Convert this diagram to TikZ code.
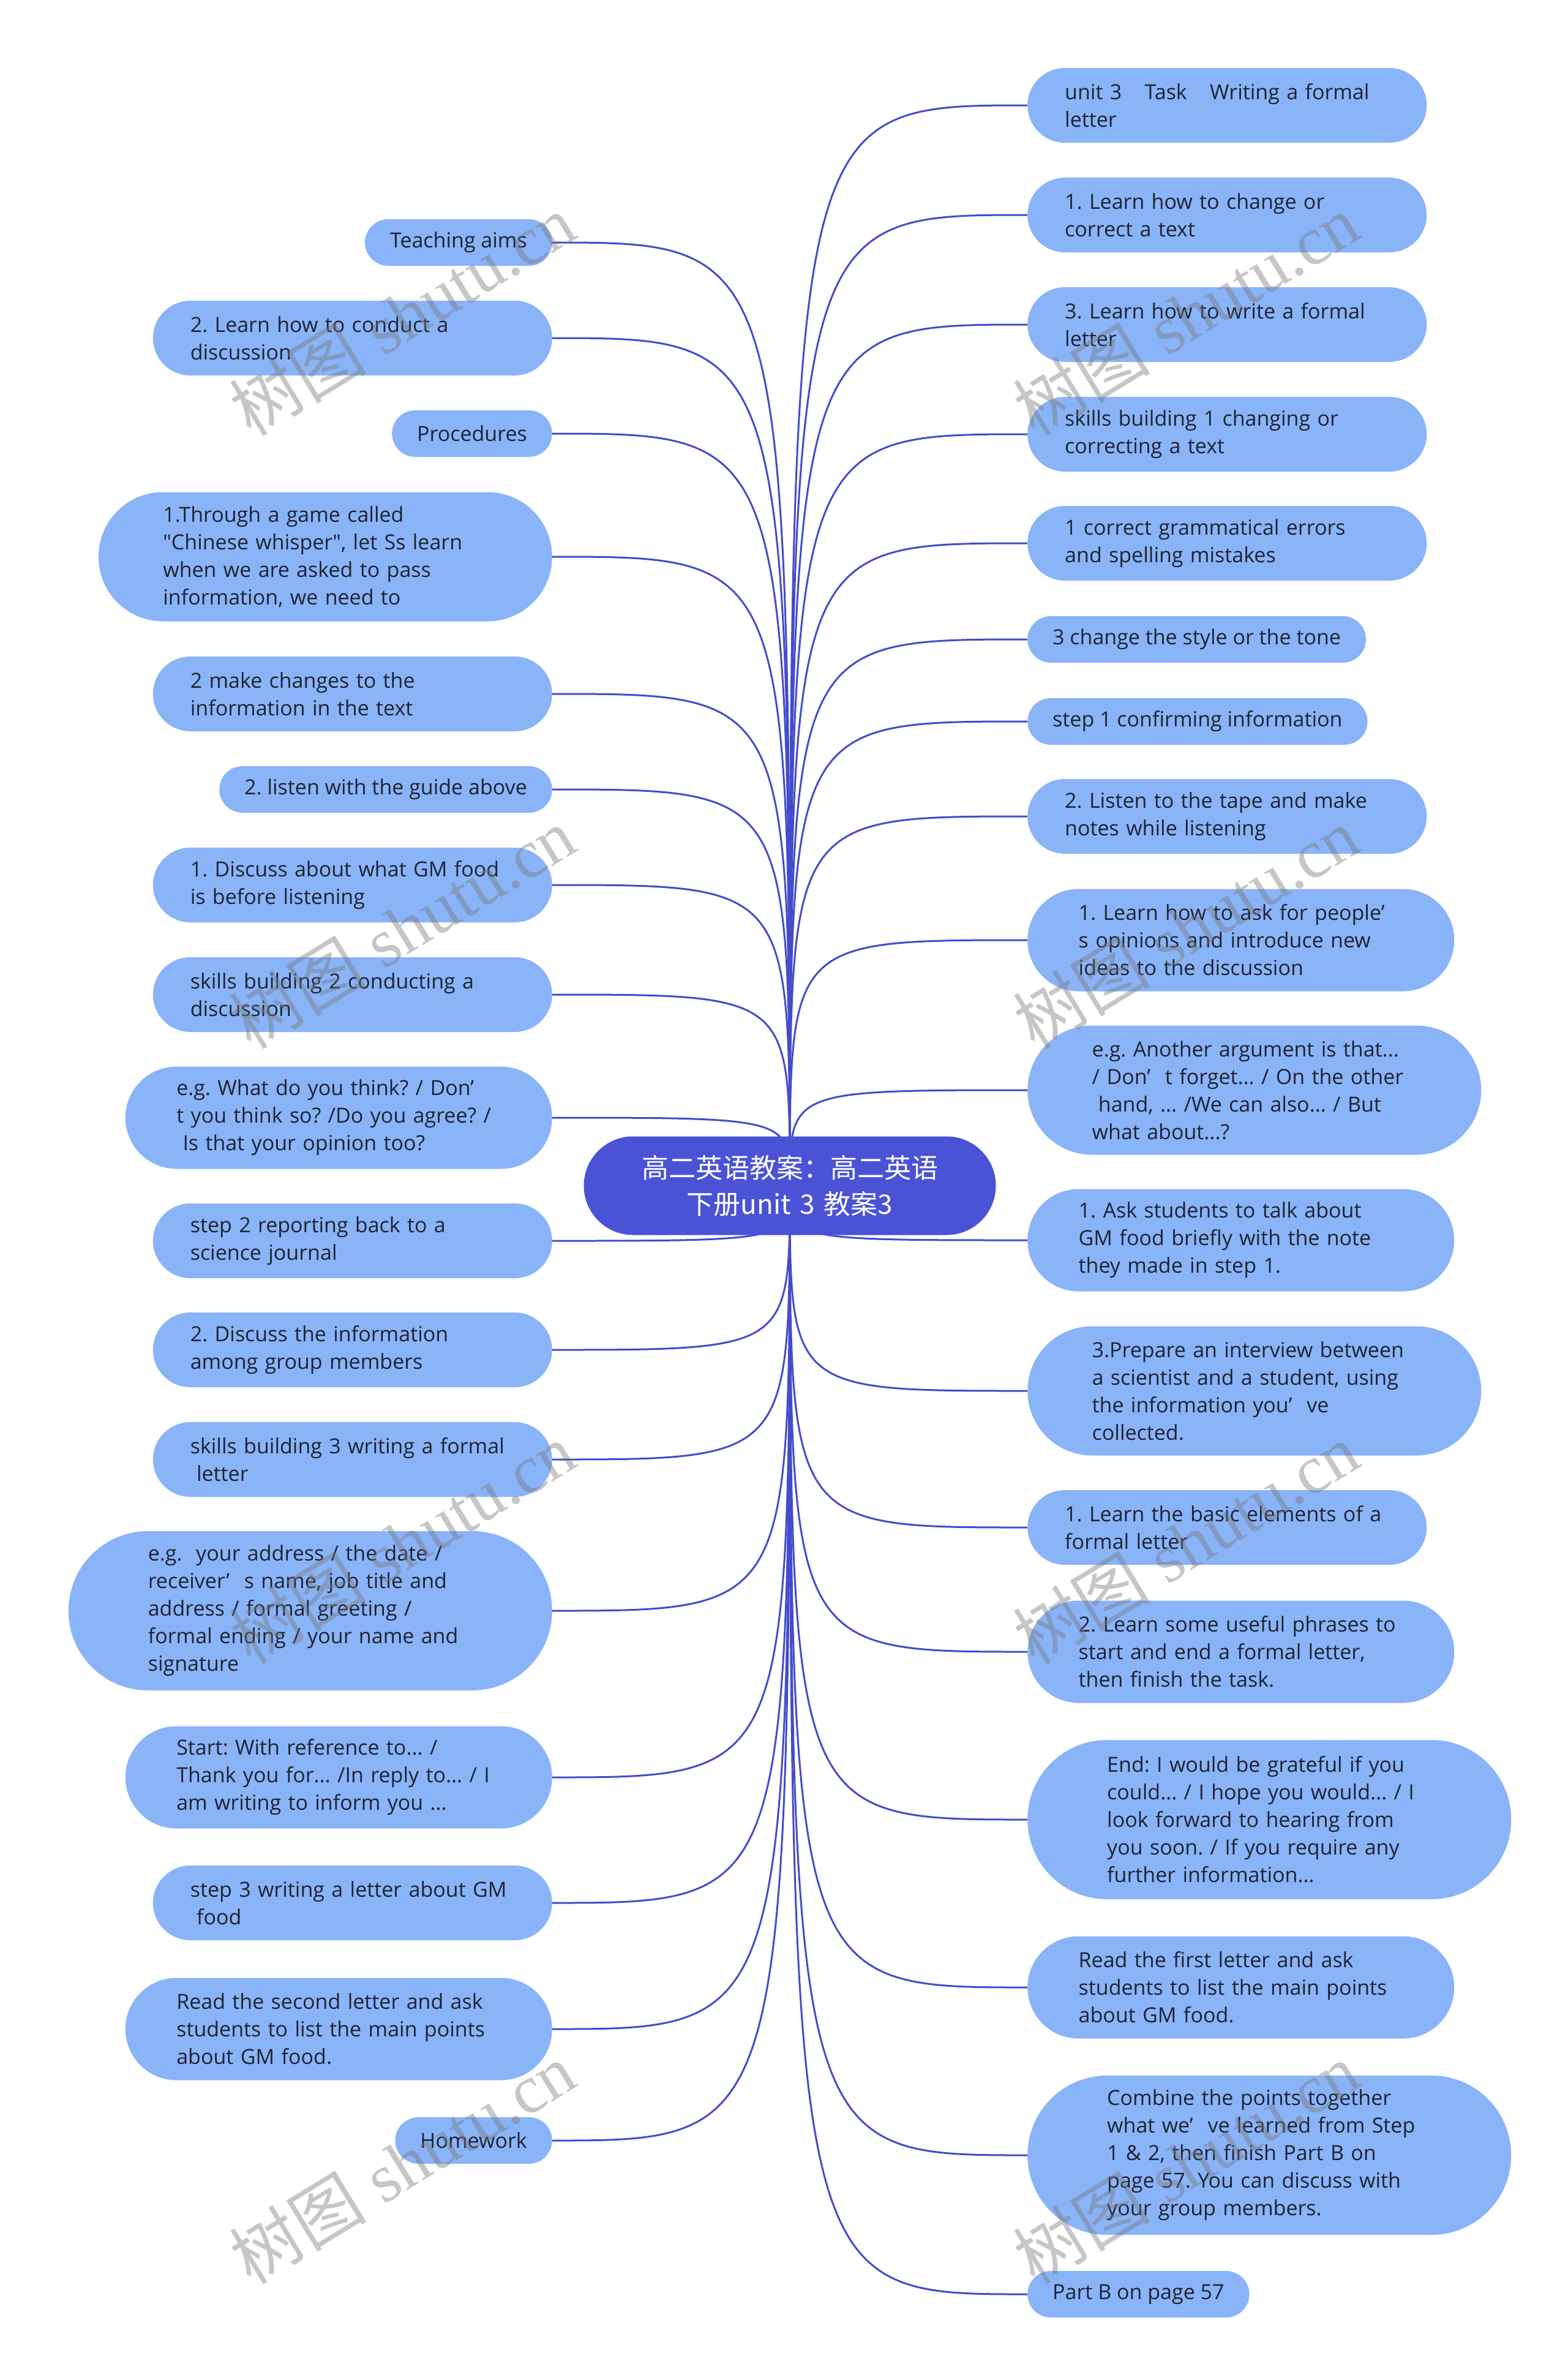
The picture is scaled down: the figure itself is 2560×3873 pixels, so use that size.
\documentclass[tikz,border=0pt]{standalone}
\usepackage{fontspec}
\setmainfont{Open Sans}
\newfontfamily\qfont{Open Sans}[Ligatures=TeXOff]
\newfontfamily\cjk{Noto Sans CJK SC}
\newfontfamily\wmfont{Liberation Serif}
\pgfdeclarelayer{bg}
\pgfsetlayers{bg,main}
\definecolor{leaf}{RGB}{138,180,248}
\definecolor{rootc}{RGB}{74,82,214}
\definecolor{edgec}{RGB}{68,76,204}
\definecolor{txt}{RGB}{30,34,48}
\definecolor{wmc}{RGB}{120,120,120}
\tikzset{
  leafbase/.style={rectangle, fill=leaf, text=txt, font=\fontsize{34}{45}\selectfont, inner ysep=6pt, ln1},
  wrapleaf/.style={leafbase, text width=530pt, align=left},
  ln1/.style={minimum height=76pt, inner xsep=41pt, rounded corners=38pt},
  ln2/.style={minimum height=122pt, inner xsep=61pt, rounded corners=61pt},
  ln3/.style={minimum height=167pt, inner xsep=83.5pt, rounded corners=83.5pt},
  ln4/.style={minimum height=211pt, inner xsep=105.5pt, rounded corners=105.5pt},
  ln5/.style={minimum height=260pt, inner xsep=130pt, rounded corners=130pt},
  lnode/.style={anchor=east},
  rnode/.style={anchor=west},
  edge/.style={draw=edgec, line width=3pt},
  wm/.style={text=wmc, text opacity=0.42, rotate=31.5, font=\fontsize{112}{120}\selectfont}
}
\newcommand{\gp}{\hspace{0.7em}}
\newcommand{\ind}{\hspace{0.3em}}
\newcommand{\dq}{{\qfont\symbol{34}}}
\begin{document}
\frenchspacing
\begin{tikzpicture}[x=1pt,y=-1pt]
\begin{pgfonlayer}{bg}
\fill[white] (0,0) rectangle (2560,3873);
\end{pgfonlayer}
\useasboundingbox (0,0) rectangle (2560,3873);

% root
\node[rectangle, fill=rootc, text=white, font=\cjk\fontsize{44}{59}\selectfont, text width=512pt, align=center, minimum height=161pt, inner xsep=80.5pt, rounded corners=80.5pt] (root) at (1290,1936) {高二英语教案：高二英语\\下册unit 3 教案3};

% left nodes
\def\lx{902}
\node[leafbase, lnode] (L1) at (\lx,396) {Teaching aims};
\node[wrapleaf, ln2, lnode] (L2) at (\lx,552) {2. Learn how to conduct a\\discussion};
\node[leafbase, lnode] (L3) at (\lx,708) {Procedures};
\node[wrapleaf, ln4, lnode] (L4) at (\lx,909) {1.Through a game called\\\dq Chinese whisper\dq, let Ss learn\\when we are asked to pass\\information, we need to};
\node[wrapleaf, ln2, lnode] (L5) at (\lx,1133) {2 make changes to the\\information in the text};
\node[leafbase, lnode] (L6) at (\lx,1289) {2. listen with the guide above};
\node[wrapleaf, ln2, lnode] (L7) at (\lx,1445) {1. Discuss about what GM food\\is before listening};
\node[wrapleaf, ln2, lnode] (L8) at (\lx,1624) {skills building 2 conducting a\\discussion};
\node[wrapleaf, ln3, lnode] (L9) at (\lx,1825) {e.g. What do you think? / Don’\\t you think so? /Do you agree? /\\\ind Is that your opinion too?};
\node[wrapleaf, ln2, lnode] (L10) at (\lx,2026) {step 2 reporting back to a\\science journal};
\node[wrapleaf, ln2, lnode] (L11) at (\lx,2204) {2. Discuss the information\\among group members};
\node[wrapleaf, ln2, lnode] (L12) at (\lx,2383) {skills building 3 writing a formal\\\ind letter};
\node[wrapleaf, ln5, lnode] (L13) at (\lx,2630) {e.g.\ \ your address / the date /\\receiver’\gp s name, job title and\\address / formal greeting /\\formal ending / your name and\\signature};
\node[wrapleaf, ln3, lnode] (L14) at (\lx,2902) {Start: With reference to... /\\Thank you for... /In reply to... / I\\am writing to inform you ...};
\node[wrapleaf, ln2, lnode] (L15) at (\lx,3107) {step 3 writing a letter about GM\\\ind food};
\node[wrapleaf, ln3, lnode] (L16) at (\lx,3313) {Read the second letter and ask\\students to list the main points\\about GM food.};
\node[leafbase, lnode] (L17) at (\lx,3495) {Homework};

% right nodes
\def\rx{1678}
\node[wrapleaf, ln2, rnode] (R1) at (\rx,172) {unit 3\hspace{1.1em}Task\hspace{1.1em}Writing a formal\\letter};
\node[wrapleaf, ln2, rnode] (R2) at (\rx,351) {1. Learn how to change or\\correct a text};
\node[wrapleaf, ln2, rnode] (R3) at (\rx,530) {3. Learn how to write a formal\\letter};
\node[wrapleaf, ln2, rnode] (R4) at (\rx,709) {skills building 1 changing or\\correcting a text};
\node[wrapleaf, ln2, rnode] (R5) at (\rx,887) {1 correct grammatical errors\\and spelling mistakes};
\node[leafbase, rnode] (R6) at (\rx,1044) {3 change the style or the tone};
\node[leafbase, rnode] (R7) at (\rx,1178) {step 1 confirming information};
\node[wrapleaf, ln2, rnode] (R8) at (\rx,1333) {2. Listen to the tape and make\\notes while listening};
\node[wrapleaf, ln3, rnode] (R9) at (\rx,1535) {1. Learn how to ask for people’\\s opinions and introduce new\\ideas to the discussion};
\node[wrapleaf, ln4, rnode] (R10) at (\rx,1780) {e.g. Another argument is that...\\/ Don’\gp t forget... / On the other\\\ind hand, ... /We can also... / But\\what about...?};
\node[wrapleaf, ln3, rnode] (R11) at (\rx,2025) {1. Ask students to talk about\\GM food briefly with the note\\they made in step 1.};
\node[wrapleaf, ln4, rnode] (R12) at (\rx,2271) {3.Prepare an interview between\\a scientist and a student, using\\the information you’\gp ve\\collected.};
\node[wrapleaf, ln2, rnode] (R13) at (\rx,2494) {1. Learn the basic elements of a\\formal letter};
\node[wrapleaf, ln3, rnode] (R14) at (\rx,2697) {2. Learn some useful phrases to\\start and end a formal letter,\\then finish the task.};
\node[wrapleaf, ln5, rnode] (R15) at (\rx,2971) {End: I would be grateful if you\\could... / I hope you would... / I\\look forward to hearing from\\you soon. / If you require any\\further information...};
\node[wrapleaf, ln3, rnode] (R16) at (\rx,3245) {Read the first letter and ask\\students to list the main points\\about GM food.};
\node[wrapleaf, ln5, rnode] (R17) at (\rx,3519) {Combine the points together\\what we’\gp ve learned from Step\\1 \& 2, then finish Part B on\\page 57. You can discuss with\\your group members.};
\node[leafbase, rnode] (R18) at (\rx,3746) {Part B on page 57};

% edges
\begin{pgfonlayer}{bg}
\foreach \n in {L1,L2,L3,L4,L5,L6,L7,L8,L9,L10,L11,L12,L13,L14,L15,L16,L17}{
  \draw[edge] (root.center) .. controls (root.center |- \n.east) .. (\n.east);
}
\foreach \n in {R1,R2,R3,R4,R5,R6,R7,R8,R9,R10,R11,R12,R13,R14,R15,R16,R17,R18}{
  \draw[edge] (root.center) .. controls (root.center |- \n.west) .. (\n.west);
}
\end{pgfonlayer}

% watermarks
\foreach \wx/\wy [count=\i] in {657/514,1937/514,657/1515,1937/1515,657/2520,1937/2520,657/3532,1937/3532}{
  \node[wm] (wm\i) at (\wx,\wy) {{\cjk 树图} {\wmfont shutu.cn}};
}
\end{tikzpicture}
\end{document}
